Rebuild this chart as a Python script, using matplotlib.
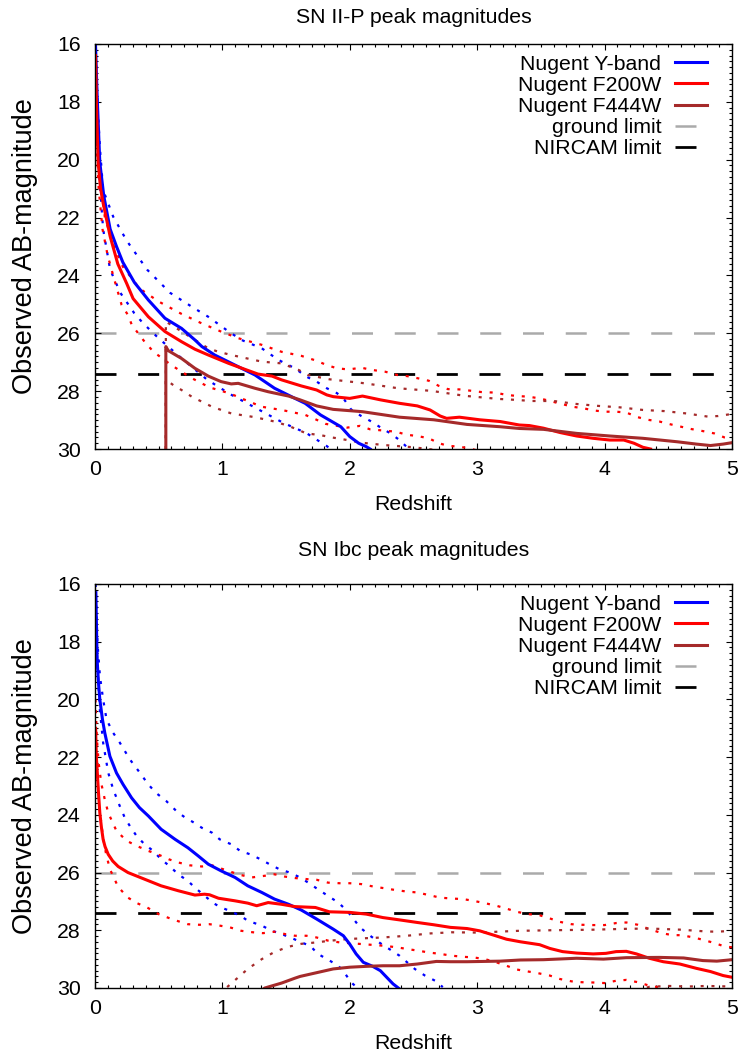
import matplotlib
matplotlib.use('Agg')
import matplotlib.pyplot as plt
from matplotlib.ticker import MultipleLocator

plt.rcParams['font.family'] = ['Liberation Sans', 'DejaVu Sans']

# ---------------- SN II-P ----------------
z_y_iip = [0.005, 0.018, 0.039, 0.07, 0.12, 0.17, 0.22, 0.31, 0.42, 0.55, 0.68, 0.785, 0.84, 0.94, 1.10,
           1.256, 1.41, 1.57, 1.65, 1.77, 1.93, 2.0, 2.07, 2.13, 2.16]
m_y_iip = [16.0, 17.8, 20.1, 21.25, 22.4, 23.0, 23.55, 24.24, 24.85, 25.48, 25.83, 26.23, 26.46, 26.75, 27.1,
           27.44, 27.9, 28.25, 28.42, 28.82, 29.23, 29.57, 29.8, 29.92, 30.0]
z_yhi_iip = [0.005, 0.02, 0.04, 0.065, 0.144, 0.25, 0.41, 0.59, 0.76, 0.89, 1.05, 1.15, 1.31, 1.44, 1.57,
             1.66, 1.74, 1.82, 1.90, 1.96, 2.01, 2.09, 2.17, 2.25, 2.32, 2.39, 2.45]
m_yhi_iip = [16.0, 18.0, 19.6, 21.05, 21.97, 22.8, 23.8, 24.6, 25.08, 25.43, 25.94, 26.23, 26.52, 26.92, 27.21,
             27.5, 27.67, 27.9, 28.07, 28.31, 28.63, 28.86, 29.05, 29.28, 29.46, 29.69, 29.94]
z_ylo_iip = [0.005, 0.02, 0.035, 0.065, 0.12, 0.2, 0.27, 0.31, 0.38, 0.50, 0.69, 0.88, 1.06, 1.27, 1.48,
             1.66, 1.82, 1.85]
m_ylo_iip = [16.5, 19.0, 20.6, 22.4, 23.8, 24.6, 25.05, 25.31, 25.66, 26.17, 26.9, 27.6, 28.1, 28.6, 29.1,
             29.45, 29.9, 30.0]

z_f200_iip = [0.005, 0.015, 0.026, 0.045, 0.065, 0.12, 0.18, 0.25, 0.30, 0.42, 0.55, 0.68, 0.785, 0.89, 1.05,
              1.18, 1.28, 1.39, 1.465, 1.62, 1.74, 1.82, 1.87, 2.0, 2.1, 2.24, 2.39, 2.53, 2.63, 2.71, 2.76,
              2.86, 3.02, 3.18, 3.33, 3.41, 3.52, 3.65, 3.78, 3.91, 4.04, 4.15, 4.23, 4.30, 4.36]
m_f200_iip = [16.4, 18.5, 20.1, 21.0, 21.5, 22.65, 23.6, 24.28, 24.8, 25.43, 25.94, 26.29, 26.55, 26.75, 27.04,
              27.25, 27.41, 27.48, 27.61, 27.82, 27.96, 28.13, 28.19, 28.25, 28.17, 28.30, 28.42, 28.51, 28.65,
              28.86, 28.94, 28.9, 28.99, 29.05, 29.17, 29.19, 29.28, 29.43, 29.55, 29.63, 29.69, 29.69, 29.8,
              29.94, 30.0]
z_f200hi_iip = [0.005, 0.02, 0.04, 0.078, 0.14, 0.22, 0.35, 0.5, 0.68, 0.84, 0.99, 1.125, 1.31, 1.465, 1.62,
                1.74, 1.82, 1.90, 1.99, 2.09, 2.18, 2.28, 2.37, 2.45, 2.54, 2.62, 2.70, 2.77, 2.86, 2.94, 3.03,
                3.14, 3.23, 3.32, 3.40, 3.49, 3.57, 3.66, 3.75, 3.83, 3.92, 4.0, 4.09, 4.17, 4.26, 4.34, 4.43,
                4.51, 4.60, 4.68, 4.77, 4.86, 4.94, 5.0]
m_f200hi_iip = [16.3, 18.8, 20.7, 21.97, 22.9, 23.7, 24.45, 24.9, 25.33, 25.66, 25.94, 26.17, 26.4, 26.64, 26.78,
                26.95, 27.1, 27.21, 27.25, 27.19, 27.27, 27.33, 27.44, 27.48, 27.56, 27.64, 27.82, 27.93, 27.94,
                27.98, 28.03, 28.05, 28.13, 28.17, 28.19, 28.25, 28.34, 28.44, 28.54, 28.59, 28.67, 28.71, 28.71,
                28.74, 28.9, 28.99, 29.05, 29.14, 29.23, 29.31, 29.38, 29.46, 29.6, 29.65]
z_f200lo_iip = [0.005, 0.015, 0.03, 0.06, 0.1, 0.15, 0.21, 0.26, 0.29, 0.39, 0.46, 0.6, 0.76, 0.9, 1.06, 1.15,
                1.31, 1.465, 1.65, 1.73, 1.81, 1.98, 2.08, 2.16, 2.36, 2.45, 2.53, 2.62, 2.70, 2.77, 2.86, 2.94,
                3.0]
m_f200lo_iip = [16.8, 19.5, 21.0, 22.4, 23.3, 24.1, 25.02, 25.37, 25.71, 26.29, 26.64, 27.1, 27.55, 27.87, 28.08,
                28.25, 28.54, 28.65, 28.82, 28.97, 29.13, 29.26, 29.2, 29.32, 29.4, 29.51, 29.55, 29.63, 29.8,
                29.89, 29.92, 29.98, 30.05]

z_f444_iip = [0.557, 0.557, 0.576, 0.68, 0.785, 0.89, 0.99, 1.07, 1.125, 1.256, 1.36, 1.52, 1.61, 1.74, 1.87,
              2.1, 2.39, 2.66, 2.92, 3.18, 3.33, 3.52, 3.78, 4.04, 4.30, 4.57, 4.72, 4.83, 4.93, 5.0]
m_f444_iip = [30.0, 26.46, 26.6, 26.87, 27.21, 27.48, 27.67, 27.75, 27.73, 27.9, 28.02, 28.17, 28.3, 28.51, 28.63,
              28.71, 28.9, 28.99, 29.15, 29.23, 29.29, 29.32, 29.46, 29.55, 29.63, 29.75, 29.83, 29.88, 29.83,
              29.78]
z_f444hi_iip = [0.557, 0.557, 0.60, 0.785, 0.89, 0.97, 1.07, 1.31, 1.465, 1.60, 1.67, 1.84, 2.12, 2.38, 2.64,
                2.90, 3.17, 3.26, 3.43, 3.60, 3.77, 3.95, 4.12, 4.30, 4.47, 4.64, 4.81, 4.89, 4.98, 5.0]
m_f444hi_iip = [30.0, 25.6, 25.71, 26.23, 26.52, 26.64, 26.75, 26.98, 27.04, 27.27, 27.44, 27.59, 27.73, 27.9,
                27.99, 28.16, 28.27, 28.29, 28.34, 28.34, 28.44, 28.51, 28.56, 28.65, 28.69, 28.77, 28.88, 28.86,
                28.8, 28.78]
z_f444lo_iip = [0.557, 0.557, 0.615, 0.68, 0.76, 0.92, 1.07, 1.256, 1.41, 1.52, 1.66, 1.77, 1.86, 1.93, 2.09,
                2.26, 2.50, 2.65]
m_f444lo_iip = [30.0, 27.6, 27.79, 27.96, 28.19, 28.54, 28.77, 28.9, 29.05, 29.2, 29.46, 29.52, 29.6, 29.65,
                29.78, 29.86, 29.94, 30.02]

# ---------------- SN Ibc ----------------
z_y_ibc = [0.008, 0.012, 0.018, 0.028, 0.039, 0.06, 0.078, 0.118, 0.17, 0.222, 0.288, 0.35, 0.42, 0.52, 0.63,
           0.73, 0.81, 0.89, 0.99, 1.10, 1.20, 1.31, 1.41, 1.52, 1.62, 1.74, 1.87, 1.95, 2.0, 2.05, 2.106, 2.18,
           2.24, 2.29, 2.34, 2.39]
m_y_ibc = [16.3, 17.3, 18.63, 19.4, 20.0, 20.7, 21.16, 21.97, 22.55, 22.95, 23.41, 23.75, 24.04, 24.5, 24.85,
           25.14, 25.42, 25.71, 25.94, 26.17, 26.46, 26.69, 26.92, 27.1, 27.3, 27.61, 27.96, 28.19, 28.48, 28.82,
           29.11, 29.25, 29.4, 29.63, 29.86, 30.03]
z_yhi_ibc = [0.006, 0.02, 0.04, 0.065, 0.092, 0.144, 0.196, 0.275, 0.353, 0.42, 0.48, 0.56, 0.64, 0.71, 0.77,
             0.84, 0.92, 0.98, 1.07, 1.14, 1.22, 1.30, 1.37, 1.45, 1.53, 1.61, 1.685, 1.75, 1.83, 1.91, 1.98,
             2.03, 2.08, 2.16, 2.24, 2.31, 2.39, 2.51, 2.59, 2.67, 2.73]
m_yhi_ibc = [16.0, 18.0, 19.2, 20.0, 20.7, 21.16, 21.5, 22.08, 22.54, 22.95, 23.24, 23.52, 23.87, 24.1, 24.25,
             24.45, 24.62, 24.85, 25.02, 25.25, 25.37, 25.54, 25.71, 25.89, 26.0, 26.17, 26.38, 26.58, 26.81,
             27.04, 27.33, 27.61, 27.9, 28.19, 28.45, 28.65, 28.88, 29.34, 29.57, 29.75, 29.97]
z_ylo_ibc = [0.006, 0.018, 0.039, 0.065, 0.105, 0.144, 0.196, 0.235, 0.275, 0.327, 0.39, 0.458, 0.52, 0.59,
             0.654, 0.73, 0.785, 0.86, 0.93, 0.99, 1.06, 1.15, 1.20, 1.31, 1.39, 1.465, 1.56, 1.62, 1.69, 1.75,
             1.83, 1.91, 1.96, 2.01, 2.04, 2.06]
m_ylo_ibc = [16.6, 18.63, 20.35, 21.5, 22.54, 23.12, 23.7, 24.1, 24.39, 24.73, 25.02, 25.25, 25.54, 25.79, 26.06,
             26.29, 26.52, 26.8, 27.06, 27.21, 27.33, 27.52, 27.67, 27.84, 28.02, 28.13, 28.3, 28.42, 28.54, 28.82,
             29.02, 29.23, 29.48, 29.8, 29.92, 30.05]

z_f200_ibc = [0.006, 0.012, 0.02, 0.028, 0.039, 0.052, 0.065, 0.08, 0.105, 0.14, 0.183, 0.26, 0.39, 0.52, 0.654,
              0.785, 0.86, 0.90, 0.97, 1.10, 1.20, 1.27, 1.36, 1.465, 1.57, 1.73, 1.84, 2.0, 2.13, 2.26, 2.39, 2.53,
              2.66, 2.79, 2.92, 3.02, 3.13, 3.23, 3.34, 3.49, 3.57, 3.67, 3.78, 3.91, 4.01, 4.09, 4.17, 4.25, 4.35,
              4.46, 4.59, 4.72, 4.83, 4.93, 5.0]
m_f200_ibc = [21.0, 22.0, 22.6, 23.2, 23.93, 24.45, 24.85, 25.1, 25.37, 25.6, 25.79, 26.0, 26.23, 26.46, 26.63,
              26.78, 26.75, 26.77, 26.89, 26.98, 27.06, 27.15, 27.04, 27.1, 27.18, 27.21, 27.36, 27.38, 27.44,
              27.56, 27.64, 27.73, 27.81, 27.9, 27.94, 28.02, 28.17, 28.31, 28.4, 28.5, 28.63, 28.74, 28.79, 28.82,
              28.8, 28.74, 28.73, 28.82, 28.97, 29.09, 29.17, 29.32, 29.43, 29.57, 29.63]
z_f200hi_ibc = [0.005, 0.015, 0.03, 0.05, 0.078, 0.105, 0.17, 0.25, 0.33, 0.42, 0.51, 0.58, 0.654, 0.746, 0.84,
                0.92, 0.99, 1.07, 1.15, 1.23, 1.32, 1.41, 1.49, 1.57, 1.67, 1.74, 1.83, 1.92, 2.0, 2.09, 2.18, 2.28,
                2.35, 2.45, 2.53, 2.62, 2.71, 2.80, 2.89, 2.97, 3.06, 3.15, 3.23, 3.31, 3.40, 3.49, 3.57, 3.65,
                3.74, 3.82, 3.91, 4.0, 4.09, 4.17, 4.26, 4.35, 4.45, 4.53, 4.60, 4.70, 4.77, 4.86, 4.94, 5.0]
m_f200hi_ibc = [20.0, 21.3, 22.2, 22.9, 23.47, 23.93, 24.56, 24.9, 25.08, 25.25, 25.40, 25.54, 25.65, 25.75, 25.79,
                25.75, 25.86, 25.98, 26.09, 26.17, 26.12, 26.06, 26.14, 26.19, 26.23, 26.25, 26.35, 26.37, 26.37,
                26.4, 26.48, 26.55, 26.6, 26.66, 26.69, 26.78, 26.87, 26.9, 26.92, 26.98, 27.06, 27.15, 27.25,
                27.36, 27.44, 27.48, 27.59, 27.71, 27.79, 27.81, 27.82, 27.82, 27.75, 27.73, 27.81, 27.96, 28.10,
                28.17, 28.17, 28.25, 28.33, 28.44, 28.56, 28.59]
z_f200lo_ibc = [0.005, 0.013, 0.026, 0.04, 0.065, 0.09, 0.12, 0.183, 0.26, 0.33, 0.41, 0.50, 0.59, 0.67, 0.73,
                0.82, 0.90, 0.98, 1.06, 1.15, 1.24, 1.32, 1.41, 1.49, 1.57, 1.66, 1.74, 1.83, 1.92, 2.10, 2.26,
                2.37, 2.45, 2.54, 2.62, 2.71, 2.80, 2.89, 2.97, 3.06, 3.15, 3.23, 3.31, 3.40, 3.48, 3.57, 3.65,
                3.74, 3.82, 3.91, 4.0, 4.09, 4.17, 4.26, 4.35, 4.43, 4.5]
m_f200lo_ibc = [21.5, 22.3, 23.1, 23.9, 24.8, 25.4, 25.9, 26.5, 26.87, 27.06, 27.21, 27.44, 27.59, 27.71, 27.79,
                27.81, 27.79, 27.84, 27.9, 28.02, 28.07, 28.1, 28.05, 28.13, 28.19, 28.19, 28.25, 28.36, 28.42,
                28.48, 28.535, 28.59, 28.65, 28.71, 28.77, 28.82, 28.88, 28.92, 28.94, 29.0, 29.11, 29.23, 29.36,
                29.43, 29.49, 29.57, 29.69, 29.77, 29.8, 29.81, 29.83, 29.75, 29.72, 29.8, 29.92, 29.98, 30.05]

z_f444_ibc = [1.30, 1.334, 1.465, 1.57, 1.61, 1.74, 1.87, 2.0, 2.13, 2.26, 2.39, 2.53, 2.68, 2.79, 2.92, 3.18,
              3.34, 3.52, 3.78, 3.99, 4.17, 4.43, 4.62, 4.77, 4.88, 5.0]
m_f444_ibc = [30.1, 30.0, 29.83, 29.66, 29.6, 29.47, 29.34, 29.28, 29.25, 29.23, 29.23, 29.17, 29.08, 29.09, 29.09,
              29.07, 29.03, 29.02, 28.97, 29.0, 28.95, 28.94, 28.96, 29.05, 29.07, 29.02]
z_f444hi_ibc = [1.0, 1.03, 1.11, 1.20, 1.31, 1.41, 1.52, 1.62, 1.74, 1.83, 1.92, 2.0, 2.10, 2.26, 2.45, 2.63, 2.80,
                3.0, 3.32, 3.57, 3.91, 4.17, 4.35, 4.60, 4.79, 4.88, 5.0]
m_f444hi_ibc = [30.3, 30.0, 29.69, 29.34, 29.0, 28.75, 28.57, 28.47, 28.42, 28.37, 28.33, 28.30, 28.28, 28.25,
                28.19, 28.11, 28.07, 28.08, 28.02, 28.0, 27.98, 27.95, 27.94, 27.98, 28.04, 28.05, 28.02]
z_f444lo_ibc = [4.25, 4.35, 4.5, 4.65, 4.8, 5.0]
m_f444lo_ibc = [30.1, 29.96, 29.93, 29.95, 29.93, 29.95]

ground_limit = 26.0
nircam_limit = 27.4

BLUE, RED, BROWN, GREY = '#0000ff', '#ff0000', '#a52a2a', '#aaaaaa'
FS = 15.3


def panel(ax, title, title_pad, y, yhi, ylo, f2, f2hi, f2lo, f4, f4hi, f4lo):
    dot = dict(lw=1.6, ls=(0, (1.36, 3.5)), dash_capstyle='butt')
    ax.axhline(ground_limit, color=GREY, lw=1.8, ls=(0, (8.4, 8.7)), label='ground limit', zorder=1)
    ax.axhline(nircam_limit, color='black', lw=2.0, ls=(0, (7.56, 7.8)), label='NIRCAM limit', zorder=1)
    ax.plot(*yhi, color=BLUE, **dot)
    ax.plot(*ylo, color=BLUE, **dot)
    ax.plot(*f2hi, color=RED, **dot)
    ax.plot(*f2lo, color=RED, **dot)
    ax.plot(*f4hi, color=BROWN, **dot)
    ax.plot(*f4lo, color=BROWN, **dot)
    ax.plot(*y, color=BLUE, lw=2.2, label='Nugent Y-band')
    ax.plot(*f2, color=RED, lw=2.2, label='Nugent F200W')
    ax.plot(*f4, color=BROWN, lw=2.2, label='Nugent F444W')

    ax.set_xlim(0, 5)
    ax.set_ylim(30, 16)
    ax.xaxis.set_major_locator(MultipleLocator(1))
    ax.xaxis.set_minor_locator(MultipleLocator(0.1))
    ax.yaxis.set_major_locator(MultipleLocator(2))
    ax.yaxis.set_minor_locator(MultipleLocator(0.2))
    ax.tick_params(which='both', direction='in', top=True, right=True, width=0.8, labelsize=FS)
    ax.tick_params(which='major', length=4.5)
    ax.tick_params(which='minor', length=2.3)
    ax.tick_params(axis='x', pad=8)
    ax.tick_params(axis='y', pad=10)
    for s in ax.spines.values():
        s.set_linewidth(1.0)

    ax.set_title(title, fontsize=FS, pad=title_pad)
    ax.set_xlabel('Redshift', fontsize=FS, labelpad=11.5)
    ax.set_ylabel('Observed AB-magnitude', fontsize=19.5, labelpad=14)

    h, l = ax.get_legend_handles_labels()
    order = [2, 3, 4, 0, 1]
    ax.legend([h[i] for i in order], [l[i] for i in order], loc='upper right',
              bbox_to_anchor=(0.9608, 0.9733), borderaxespad=0, borderpad=0, frameon=False,
              markerfirst=False, handlelength=1.5, handletextpad=0.66, labelspacing=0.1, fontsize=FS)


fig = plt.figure(figsize=(7.41, 10.57), dpi=100)
ax1 = fig.add_axes([0.128, 0.5752, 0.86, 0.3832])
ax2 = fig.add_axes([0.128, 0.0653, 0.86, 0.3822])

panel(ax1, 'SN II-P peak magnitudes', 15.3,
      (z_y_iip, m_y_iip), (z_yhi_iip, m_yhi_iip), (z_ylo_iip, m_ylo_iip),
      (z_f200_iip, m_f200_iip), (z_f200hi_iip, m_f200hi_iip), (z_f200lo_iip, m_f200lo_iip),
      (z_f444_iip, m_f444_iip), (z_f444hi_iip, m_f444hi_iip), (z_f444lo_iip, m_f444lo_iip))
panel(ax2, 'SN Ibc peak magnitudes', 20.4,
      (z_y_ibc, m_y_ibc), (z_yhi_ibc, m_yhi_ibc), (z_ylo_ibc, m_ylo_ibc),
      (z_f200_ibc, m_f200_ibc), (z_f200hi_ibc, m_f200hi_ibc), (z_f200lo_ibc, m_f200lo_ibc),
      (z_f444_ibc, m_f444_ibc), (z_f444hi_ibc, m_f444hi_ibc), (z_f444lo_ibc, m_f444lo_ibc))

fig.savefig('out.png', dpi=100)
